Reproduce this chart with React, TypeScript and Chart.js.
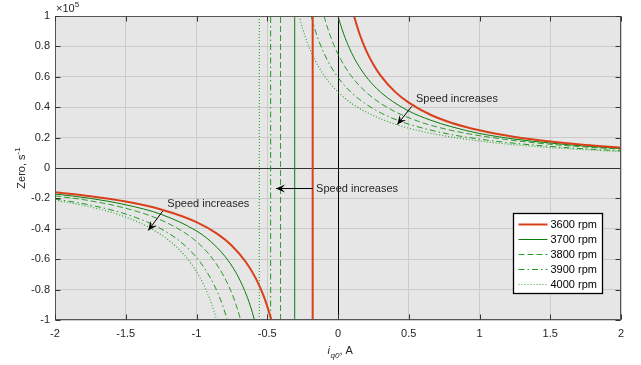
import React, { useEffect, useRef } from 'react';
import { Chart, registerables } from 'chart.js';

Chart.register(...registerables);

// ---------- data ----------
const SERIES_LABELS = ['3600 rpm', '3700 rpm', '3800 rpm', '3900 rpm', '4000 rpm'];

const X_TICKS = [-2, -1.5, -1, -0.5, 0, 0.5, 1, 1.5, 2];
const X_TICK_LABELS = ['-2', '-1.5', '-1', '-0.5', '0', '0.5', '1', '1.5', '2'];
const Y_TICKS = [-1, -0.8, -0.6, -0.4, -0.2, 0, 0.2, 0.4, 0.6, 0.8, 1];
const Y_TICK_LABELS = ['-1', '-0.8', '-0.6', '-0.4', '-0.2', '0', '0.2', '0.4', '0.6', '0.8', '1'];

// pole (vertical jump) location of each speed, A
const POLE_X = [-0.179, -0.306, -0.406, -0.476, -0.556];

// 3600 rpm
const LOW_X_3600 = [-2, -1.75, -1.5, -1.25, -1.0, -0.85, -0.75, -0.65, -0.58, -0.53, -0.5, -0.471];
const LOW_Y_3600 = [-0.160, -0.186, -0.221, -0.273, -0.356, -0.435, -0.511, -0.620, -0.728, -0.832, -0.910, -1.0];
const UP_X_3600 = [0.113, 0.15, 0.2, 0.25, 0.3, 0.4, 0.5, 0.65, 0.8, 1.0, 1.25, 1.5, 1.75, 2.0];
const UP_Y_3600 = [1.0, 0.888, 0.770, 0.681, 0.610, 0.504, 0.430, 0.352, 0.298, 0.248, 0.204, 0.174, 0.151, 0.134];

// 3700 rpm
const LOW_X_3700 = [-2, -1.75, -1.5, -1.25, -1.0, -0.9, -0.8, -0.72, -0.66, -0.62, -0.59];
const LOW_Y_3700 = [-0.171, -0.200, -0.242, -0.305, -0.414, -0.483, -0.580, -0.690, -0.806, -0.906, -1.0];
const UP_X_3700 = [0.0, 0.03, 0.07, 0.12, 0.18, 0.25, 0.35, 0.5, 0.65, 0.8, 1.0, 1.25, 1.5, 1.75, 2.0];
const UP_Y_3700 = [1.0, 0.909, 0.811, 0.714, 0.625, 0.545, 0.462, 0.375, 0.316, 0.272, 0.227, 0.190, 0.164, 0.144, 0.128];

// 3800 rpm
const LOW_X_3800 = [-2, -1.75, -1.5, -1.25, -1.05, -0.95, -0.87, -0.8, -0.75, -0.71, -0.688];
const LOW_Y_3800 = [-0.183, -0.216, -0.265, -0.343, -0.447, -0.528, -0.617, -0.724, -0.825, -0.930, -1.0];
const UP_X_3800 = [-0.099, -0.07, -0.03, 0.02, 0.08, 0.15, 0.25, 0.4, 0.55, 0.7, 0.9, 1.15, 1.4, 1.7, 2.0];
const UP_Y_3800 = [1.0, 0.911, 0.811, 0.713, 0.623, 0.543, 0.459, 0.372, 0.313, 0.270, 0.229, 0.192, 0.165, 0.141, 0.124];

// 3900 rpm
const LOW_X_3900 = [-2, -1.75, -1.5, -1.3, -1.15, -1.05, -0.97, -0.9, -0.85, -0.81, -0.782];
const LOW_Y_3900 = [-0.204, -0.244, -0.303, -0.376, -0.459, -0.538, -0.624, -0.726, -0.821, -0.918, -1.0];
const UP_X_3900 = [-0.19, -0.16, -0.12, -0.07, -0.01, 0.06, 0.15, 0.3, 0.45, 0.6, 0.8, 1.05, 1.3, 1.6, 2.0];
const UP_Y_3900 = [1.0, 0.903, 0.800, 0.700, 0.609, 0.528, 0.452, 0.364, 0.304, 0.262, 0.220, 0.184, 0.158, 0.135, 0.113];

// 4000 rpm
const LOW_X_4000 = [-2, -1.75, -1.5, -1.3, -1.15, -1.05, -0.98, -0.93, -0.89, -0.857];
const LOW_Y_4000 = [-0.212, -0.256, -0.323, -0.409, -0.512, -0.614, -0.714, -0.808, -0.903, -1.0];
const UP_X_4000 = [-0.275, -0.25, -0.21, -0.16, -0.1, -0.03, 0.05, 0.15, 0.3, 0.45, 0.6, 0.8, 1.05, 1.3, 1.6, 2.0];
const UP_Y_4000 = [1.0, 0.917, 0.809, 0.705, 0.611, 0.529, 0.458, 0.393, 0.324, 0.275, 0.239, 0.204, 0.172, 0.149, 0.128, 0.108];

const LOW_X = [LOW_X_3600, LOW_X_3700, LOW_X_3800, LOW_X_3900, LOW_X_4000];
const LOW_Y = [LOW_Y_3600, LOW_Y_3700, LOW_Y_3800, LOW_Y_3900, LOW_Y_4000];
const UP_X = [UP_X_3600, UP_X_3700, UP_X_3800, UP_X_3900, UP_X_4000];
const UP_Y = [UP_Y_3600, UP_Y_3700, UP_Y_3800, UP_Y_3900, UP_Y_4000];

// annotation anchors (data units)
const ANNOTATION_TEXT = 'Speed increases';
const ANNOTATIONS = [
  { tx: 0.551, ty: 0.457, ax1: 0.521, ay1: 0.405, ax2: 0.419, ay2: 0.286 },
  { tx: -1.206, ty: -0.2355, ax1: -1.239, ay1: -0.284, ax2: -1.341, ay2: -0.411 },
  { tx: -0.155, ty: -0.135, ax1: -0.177, ay1: -0.135, ax2: -0.438, ay2: -0.135 },
];

// ---------- styles ----------
const STYLES = [
  { color: '#d8401a', width: 2, dash: [] as number[] },
  { color: '#0b7d0b', width: 1, dash: [] as number[] },
  { color: '#2c9e2c', width: 1, dash: [6, 3] },
  { color: '#1f981f', width: 1, dash: [6, 3, 1.5, 3] },
  { color: '#33a833', width: 1.2, dash: [1, 2] },
];
const FONT = '"Liberation Sans", Arial, Helvetica, sans-serif';
const TEXT = '#262626';

function zip(xs: number[], ys: number[]) {
  return xs.map((x, i) => ({ x, y: ys[i] }));
}

function drawArrow(ctx: CanvasRenderingContext2D, x1: number, y1: number, x2: number, y2: number) {
  ctx.beginPath();
  ctx.moveTo(x1, y1);
  ctx.lineTo(x2, y2);
  ctx.stroke();
  const a = Math.atan2(y2 - y1, x2 - x1);
  const c = Math.cos(a), s = Math.sin(a);
  const L = 9, W = 4;
  const bx = x2 - L * c, by = y2 - L * s;
  const nx = x2 - L * 0.6 * c, ny = y2 - L * 0.6 * s;
  ctx.beginPath();
  ctx.moveTo(x2, y2);
  ctx.lineTo(bx - W * s, by + W * c);
  ctx.lineTo(nx, ny);
  ctx.lineTo(bx + W * s, by - W * c);
  ctx.closePath();
  ctx.fill();
}

const decorPlugin = {
  id: 'decor',
  beforeDraw(chart: any) {
    const { ctx, chartArea: a } = chart;
    ctx.save();
    ctx.fillStyle = '#e6e6e6';
    ctx.fillRect(a.left, a.top, a.right - a.left, a.bottom - a.top);
    ctx.restore();
  },
  beforeDatasetsDraw(chart: any) {
    const { ctx, chartArea: a, scales } = chart;
    const x0 = Math.round(scales.x.getPixelForValue(0)) + 0.5;
    const y0 = Math.round(scales.y.getPixelForValue(0)) + 0.5;
    ctx.save();
    ctx.strokeStyle = '#000';
    ctx.lineWidth = 1;
    ctx.beginPath();
    ctx.moveTo(x0, a.top);
    ctx.lineTo(x0, a.bottom);
    ctx.stroke();
    ctx.strokeStyle = '#333';
    ctx.beginPath();
    ctx.moveTo(a.left, y0);
    ctx.lineTo(a.right, y0);
    ctx.stroke();
    ctx.restore();
  },
  afterDatasetsDraw(chart: any) {
    const { ctx, chartArea: a, scales } = chart;
    const sx = scales.x, sy = scales.y;
    ctx.save();
    // box
    const L = Math.round(a.left) + 0.5, R = Math.round(a.right) - 0.5;
    const T = Math.round(a.top) + 0.5, B = Math.round(a.bottom) - 0.5;
    ctx.strokeStyle = '#555';
    ctx.lineWidth = 1;
    ctx.setLineDash([]);
    ctx.strokeRect(L, T, R - L, B - T);
    // inward ticks
    ctx.strokeStyle = '#333';
    const tl = 5;
    ctx.beginPath();
    X_TICKS.forEach((v) => {
      const px = Math.round(sx.getPixelForValue(v)) + 0.5;
      ctx.moveTo(px, B); ctx.lineTo(px, B - tl);
      ctx.moveTo(px, T); ctx.lineTo(px, T + tl);
    });
    Y_TICKS.forEach((v) => {
      const py = Math.round(sy.getPixelForValue(v)) + 0.5;
      ctx.moveTo(L, py); ctx.lineTo(L + tl, py);
      ctx.moveTo(R, py); ctx.lineTo(R - tl, py);
    });
    ctx.stroke();

    // annotations
    ctx.fillStyle = TEXT;
    ctx.strokeStyle = '#000';
    ctx.font = `11px ${FONT}`;
    ctx.textBaseline = 'middle';
    ctx.textAlign = 'left';
    ANNOTATIONS.forEach((an) => {
      ctx.fillStyle = TEXT;
      ctx.fillText(ANNOTATION_TEXT, sx.getPixelForValue(an.tx), sy.getPixelForValue(an.ty));
      ctx.fillStyle = '#000';
      drawArrow(ctx, sx.getPixelForValue(an.ax1), sy.getPixelForValue(an.ay1),
        sx.getPixelForValue(an.ax2), sy.getPixelForValue(an.ay2));
    });

    // legend
    const lw = 89, lh = 80;
    const lx = Math.round(a.right - 108) + 0.5, ly = Math.round(a.bottom - 107) + 0.5;
    ctx.fillStyle = '#ffffff';
    ctx.fillRect(lx, ly, lw, lh);
    ctx.strokeStyle = '#000';
    ctx.lineWidth = 1.3;
    ctx.strokeRect(lx, ly, lw, lh);
    SERIES_LABELS.forEach((lab, i) => {
      const st = STYLES[i];
      const yy = ly + 10.5 + i * 15;
      ctx.strokeStyle = st.color;
      ctx.lineWidth = st.width;
      ctx.setLineDash(st.dash);
      ctx.beginPath();
      ctx.moveTo(lx + 5, Math.round(yy) + 0.5);
      ctx.lineTo(lx + 34, Math.round(yy) + 0.5);
      ctx.stroke();
      ctx.setLineDash([]);
      ctx.fillStyle = '#000';
      ctx.font = `11px ${FONT}`;
      ctx.textAlign = 'left';
      ctx.textBaseline = 'middle';
      ctx.fillText(lab, lx + 37, yy + 0.5);
    });

    // exponent label
    ctx.fillStyle = TEXT;
    ctx.textBaseline = 'alphabetic';
    ctx.font = `11px ${FONT}`;
    ctx.fillText('\u00d710', a.left + 1, a.top - 4);
    const w10 = ctx.measureText('\u00d710').width;
    ctx.font = `8px ${FONT}`;
    ctx.fillText('5', a.left + 1 + w10, a.top - 9);

    // y title (rotated)
    ctx.save();
    ctx.translate(21, (a.top + a.bottom) / 2);
    ctx.rotate(-Math.PI / 2);
    ctx.font = `11px ${FONT}`;
    const m1 = ctx.measureText('Zero, s').width;
    ctx.font = `8px ${FONT}`;
    const m2 = ctx.measureText('-1').width;
    const start = -(m1 + m2) / 2;
    ctx.font = `11px ${FONT}`;
    ctx.textBaseline = 'alphabetic';
    ctx.fillText('Zero, s', start, 4);
    ctx.font = `8px ${FONT}`;
    ctx.fillText('-1', start + m1, -1);
    ctx.restore();

    // x title: i_{q0}, A
    ctx.font = `italic 11px ${FONT}`;
    const wi = ctx.measureText('i').width;
    ctx.font = `italic 8px ${FONT}`;
    const wq = ctx.measureText('q0').width;
    ctx.font = `11px ${FONT}`;
    const wa = ctx.measureText(', A').width;
    const cx = (a.left + a.right) / 2 + 2;
    let xx = cx - (wi + wq + wa) / 2;
    const base = a.bottom + 34;
    ctx.font = `italic 11px ${FONT}`;
    ctx.fillText('i', xx, base);
    xx += wi + 0.5;
    ctx.font = `italic 8px ${FONT}`;
    ctx.fillText('q0', xx, base + 4);
    xx += wq;
    ctx.font = `11px ${FONT}`;
    ctx.fillText(', A', xx, base);
    ctx.restore();
  },
};

function tickLabel(values: number[], labels: string[], v: number) {
  const i = values.findIndex((t) => Math.abs(t - v) < 1e-9);
  return i >= 0 ? labels[i] : '';
}

export default function App() {
  const ref = useRef<HTMLCanvasElement | null>(null);
  useEffect(() => {
    if (!ref.current) return;
    const datasets: any[] = [];
    SERIES_LABELS.forEach((lab, i) => {
      const st = STYLES[i];
      const common = {
        borderColor: st.color,
        backgroundColor: st.color,
        borderWidth: st.width,
        borderDash: st.dash,
        pointRadius: 0,
        pointHoverRadius: 0,
        showLine: true,
        fill: false,
      };
      datasets.push({ ...common, label: lab, data: zip(LOW_X[i], LOW_Y[i]), cubicInterpolationMode: 'monotone' });
      datasets.push({ ...common, label: lab + ' up', data: zip(UP_X[i], UP_Y[i]), cubicInterpolationMode: 'monotone' });
      datasets.push({ ...common, label: lab + ' pole', data: [{ x: POLE_X[i], y: -1 }, { x: POLE_X[i], y: 1 }], tension: 0 });
    });

    const chart = new Chart(ref.current, {
      type: 'scatter',
      data: { datasets },
      options: {
        animation: false,
        responsive: false,
        events: [],
        layout: { padding: { left: 8, right: 20, top: 16, bottom: 0 } },
        plugins: { legend: { display: false }, tooltip: { enabled: false } },
        scales: {
          x: {
            type: 'linear',
            min: -2,
            max: 2,
            afterBuildTicks: (s: any) => { s.ticks = X_TICKS.map((v) => ({ value: v })); },
            afterFit: (s: any) => { s.height = 45; },
            grid: { color: '#cbcbcb', drawTicks: false, lineWidth: 1 },
            border: { display: false },
            ticks: {
              color: TEXT,
              font: { family: FONT, size: 11 },
              padding: 7,
              maxRotation: 0,
              autoSkip: false,
              callback: (v: any) => tickLabel(X_TICKS, X_TICK_LABELS, Number(v)),
            },
          },
          y: {
            type: 'linear',
            min: -1,
            max: 1,
            afterBuildTicks: (s: any) => { s.ticks = Y_TICKS.map((v) => ({ value: v })); },
            afterFit: (s: any) => { s.width = 47; },
            grid: { color: '#cbcbcb', drawTicks: false, lineWidth: 1 },
            border: { display: false },
            ticks: {
              color: TEXT,
              font: { family: FONT, size: 11 },
              padding: 5,
              autoSkip: false,
              callback: (v: any) => tickLabel(Y_TICKS, Y_TICK_LABELS, Number(v)),
            },
          },
        },
      },
      plugins: [decorPlugin],
    } as any);
    return () => chart.destroy();
  }, []);

  return (
    <div style={{ position: 'absolute', left: 0, top: 0, width: 641, height: 365, background: '#fff' }}>
      <canvas ref={ref} width={641} height={365} style={{ width: 641, height: 365, display: 'block' }} />
    </div>
  );
}
